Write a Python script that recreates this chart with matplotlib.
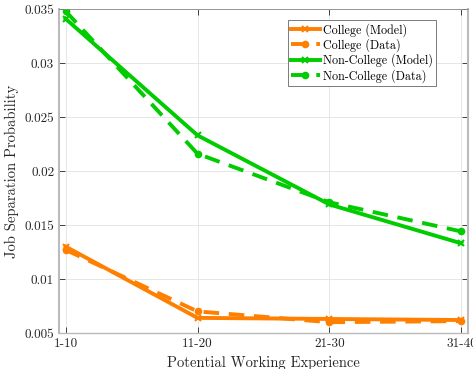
import matplotlib
matplotlib.use("Agg")
import matplotlib.pyplot as plt
from matplotlib.ticker import FixedLocator, FixedFormatter

plt.rcParams['font.family'] = 'serif'
plt.rcParams['font.serif'] = ['cmr10', 'DejaVu Serif']
plt.rcParams['mathtext.fontset'] = 'cm'
plt.rcParams['axes.unicode_minus'] = False

categories = ['1-10', '11-20', '21-30', '31-40']
college_model = [0.0130, 0.0064, 0.0063, 0.0062]
college_data = [0.0127, 0.0070, 0.0060, 0.0061]
noncollege_model = [0.0341, 0.0233, 0.0169, 0.0133]
noncollege_data = [0.0348, 0.0216, 0.0171, 0.0144]
yticks = [0.005, 0.01, 0.015, 0.02, 0.025, 0.03, 0.035]
ytick_labels = ['0.005', '0.01', '0.015', '0.02', '0.025', '0.03', '0.035']

orange = '#ff8000'
green = '#00cc00'

fig = plt.figure(figsize=(4.73, 3.69), dpi=100)
ax = fig.add_axes([59/473, 1-333/369, (468-59)/473, (333-9)/369])
x = list(range(1, len(categories)+1))
lw = 2.8
ax.plot(x, college_model, '-', color=orange, lw=lw, marker='x', ms=5, mew=1.5, label='College (Model)')
ax.plot(x, college_data, '--', color=orange, lw=lw, marker='o', ms=4, mew=1.5, dashes=(4, 2.5), label='College (Data)')
ax.plot(x, noncollege_model, '-', color=green, lw=lw, marker='x', ms=5, mew=1.5, label='Non-College (Model)')
ax.plot(x, noncollege_data, '--', color=green, lw=lw, marker='o', ms=4, mew=1.5, dashes=(4, 2.5), label='Non-College (Data)')

ax.set_xlim(0.95, 4.05)
ax.set_ylim(0.005, 0.035)
ax.xaxis.set_major_locator(FixedLocator(x))
ax.xaxis.set_major_formatter(FixedFormatter(categories))
ax.yaxis.set_major_locator(FixedLocator(yticks))
ax.yaxis.set_major_formatter(FixedFormatter(ytick_labels))
ax.grid(True, color='#e6e6e6', lw=0.7)
ax.set_axisbelow(True)
for s in ax.spines.values():
    s.set_color('#262626')
    s.set_linewidth(0.6)
ax.spines['left'].set_color('#bbbbbb')
ax.spines['left'].set_linewidth(1.5)
ax.spines['bottom'].set_color('#bbbbbb')
ax.spines['bottom'].set_linewidth(1.0)
ax.spines['top'].set_color('#888888')
ax.spines['right'].set_color('#bbbbbb')
ax.spines['right'].set_linewidth(1.5)
ax.tick_params(direction='in', top=True, right=True, length=4, width=0.6,
               colors='#262626', labelsize=9.5)
ax.set_xlabel('Potential Working Experience', fontsize=10.5, color='#262626')
ax.set_ylabel('Job Separation Probability', fontsize=10.5, color='#262626')
leg = ax.legend(loc='upper right', bbox_to_anchor=(0.922, 0.966), fontsize=8.7,
                frameon=True, fancybox=False, edgecolor='#666666', framealpha=1,
                handlelength=2.4, borderpad=0.25, labelspacing=0.12, handletextpad=0.3,
                borderaxespad=0)
leg.get_frame().set_linewidth(0.6)
fig.savefig('out.png', dpi=100)
